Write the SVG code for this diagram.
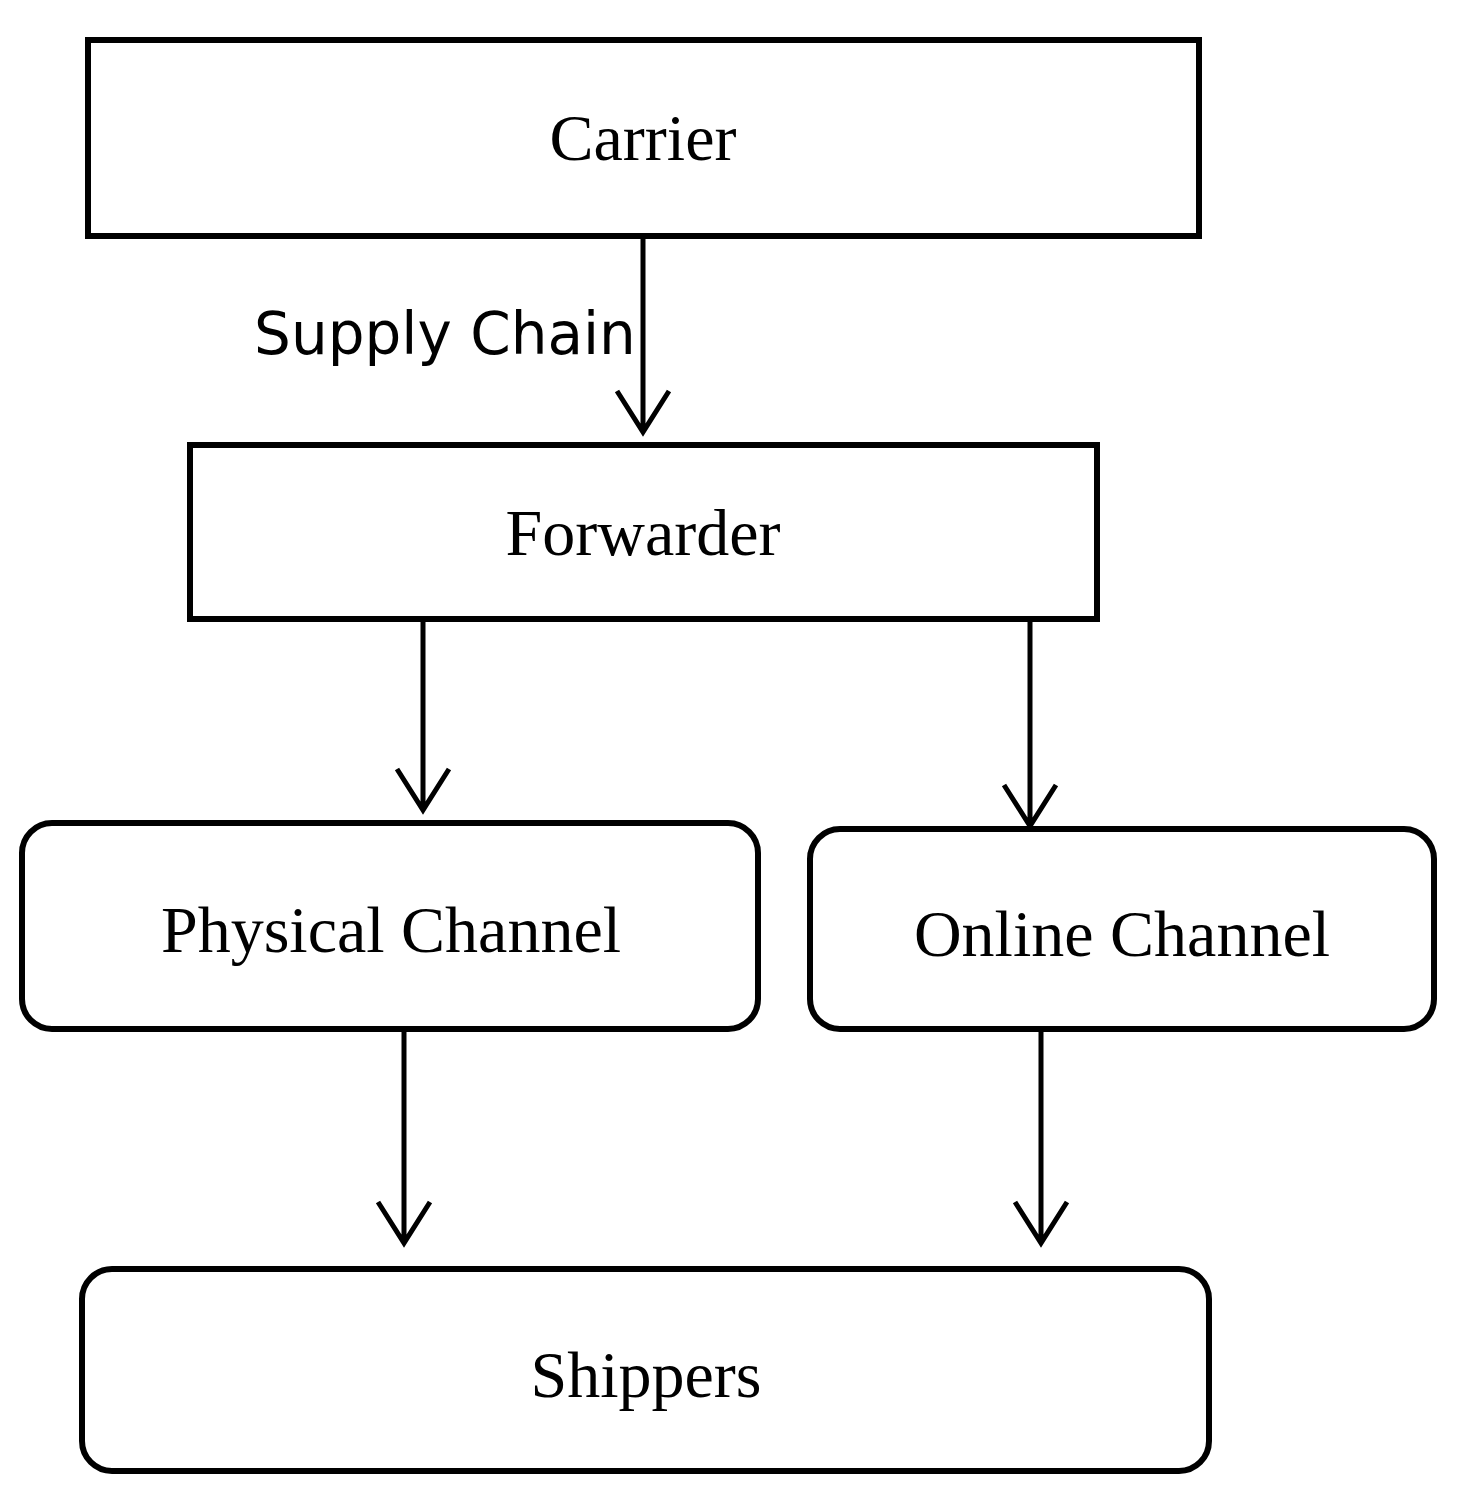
<svg xmlns="http://www.w3.org/2000/svg" width="1462" height="1506" viewBox="0 0 1462 1506">
<style>
.b{fill:#fff;stroke:#000;stroke-width:6}
.t{font-family:"Liberation Serif",serif;font-size:66px;text-anchor:middle}
.c{stroke:#000;stroke-width:5;fill:none}
</style>
<rect width="1462" height="1506" fill="#fff"/>
<g id="carrier"><rect class="b" x="88" y="40" width="1111" height="196"/><text class="t" x="643" y="160">Carrier</text></g>
<g id="forwarder"><rect class="b" x="190" y="445" width="907" height="174"/><text class="t" x="643" y="555">Forwarder</text></g>
<g id="physical"><rect class="b" x="22" y="823" width="736" height="206" rx="30"/><text class="t" x="391" y="952">Physical Channel</text></g>
<g id="online"><rect class="b" x="810" y="829" width="624" height="200" rx="30"/><text class="t" x="1122" y="956">Online Channel</text></g>
<g id="shippers"><rect class="b" x="82" y="1269" width="1127" height="202" rx="30"/><text class="t" x="646" y="1397">Shippers</text></g>
<g id="connectors">
<path class="c" d="M643 236V432M617 391L643 432L669 391"/>
<path class="c" d="M423 619V810M397 769L423 810L449 769"/>
<path class="c" d="M1030 619V826M1004 785L1030 826L1056 785"/>
<path class="c" d="M404 1029V1243M378 1202L404 1243L430 1202"/>
<path class="c" d="M1041 1029V1243M1015 1202L1041 1243L1067 1202"/>
<text x="445" y="354" font-family="DejaVu Sans,sans-serif" font-size="58" text-anchor="middle">Supply Chain</text>
</g>
</svg>
